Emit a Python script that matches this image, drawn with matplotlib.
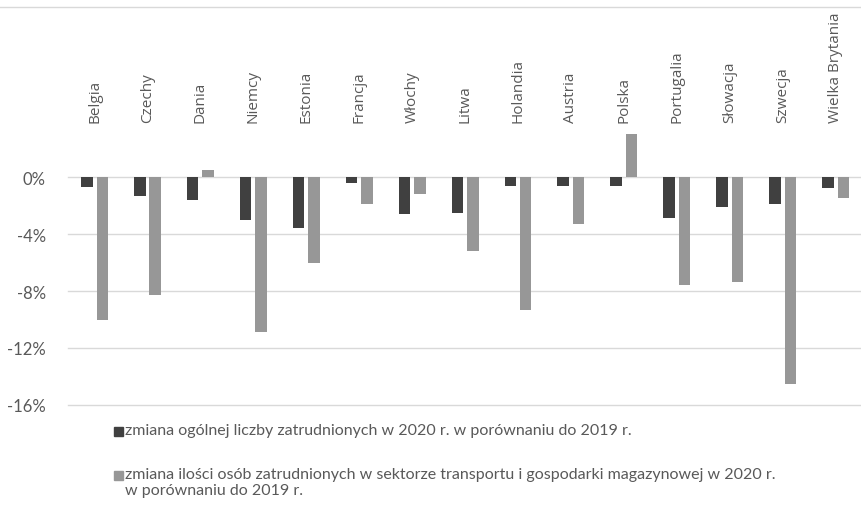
import matplotlib
matplotlib.use("Agg")
import matplotlib.pyplot as plt
from matplotlib.patches import Rectangle
from matplotlib.lines import Line2D
import numpy as np

categories = ["Belgia", "Czechy", "Dania", "Niemcy", "Estonia", "Francja", "Włochy",
              "Litwa", "Holandia", "Austria", "Polska", "Portugalia", "Słowacja",
              "Szwecja", "Wielka Brytania"]
total_change = [-0.7, -1.3, -1.6, -3.0, -3.6, -0.4, -2.6, -2.5, -0.6, -0.65, -0.6, -2.9, -2.1, -1.9, -0.75]
transport_change = [-10.0, -8.3, 0.5, -10.9, -6.0, -1.9, -1.2, -5.2, -9.3, -3.3, 3.0, -7.6, -7.4, -14.5, -1.5]
yticks = [0, -4, -8, -12, -16]
ytick_labels = ["0%", "-4%", "-8%", "-12%", "-16%"]
legend_labels = ["zmiana ogólnej liczby zatrudnionych w 2020 r. w porównaniu do 2019 r.",
                 "zmiana ilości osób zatrudnionych w sektorze transportu i gospodarki magazynowej w 2020 r.\nw porównaniu do 2019 r."]

narrow = "Lato"

dark = "#404040"
light = "#979797"
txt = "#595959"

fig = plt.figure(figsize=(8.62, 5.10), dpi=100)
ax = fig.add_axes([0.079, 0.204, 0.921, 0.539])

x = np.arange(len(categories))
w = 0.217
off = 0.146
ax.bar(x - off, total_change, width=w, color=dark, zorder=3)
ax.bar(x + off, transport_change, width=w, color=light, zorder=3)

ax.set_xlim(-0.5, len(categories) - 0.5)
ax.set_ylim(-16, 3.3)
ax.set_yticks(yticks)
ax.set_yticklabels(ytick_labels, fontfamily=narrow, fontsize=12, color=txt)
ax.yaxis.grid(True, color="#D9D9D9", linewidth=1.0, zorder=0, clip_on=False)
for gl in ax.get_ygridlines():
    gl.set_clip_on(False)
ax.tick_params(axis="y", length=0, pad=16)

ax.set_xticks(x)
ax.set_xticklabels(categories, rotation=90, fontfamily="Open Sans", fontsize=11, color=txt)
ax.xaxis.tick_top()
ax.tick_params(axis="x", length=0, pad=6, top=False)
for lab in ax.get_xticklabels():
    lab.set_verticalalignment("bottom")

for s in ax.spines.values():
    s.set_visible(False)

# top border line
fig.add_artist(Line2D([0, 1], [1 - 8 / 510, 1 - 8 / 510], color="#D9D9D9", linewidth=1.0,
                      transform=fig.transFigure))

# legend
W, H = 862, 510
entries = [(dark, legend_labels[0], 432), (light, legend_labels[1], 476)]
for color, label, ypx in entries:
    fig.add_artist(Rectangle((114 / W, 1 - (ypx + 5) / H), 9 / W, 9 / H, color=color,
                             transform=fig.transFigure))
    fig.text(125 / W, 1 - (ypx - 8) / H, label, fontfamily=narrow, fontsize=11.5, color=txt,
             va="top", ha="left", linespacing=1.15)

fig.savefig("out.png", dpi=100, facecolor="white")
